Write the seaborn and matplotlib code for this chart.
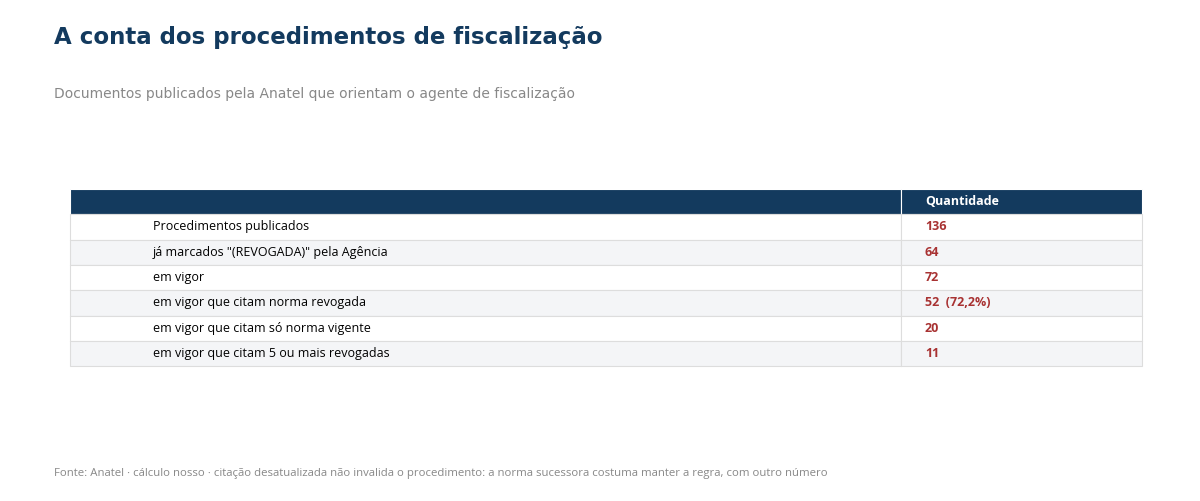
import matplotlib
matplotlib.use("Agg")
import matplotlib.pyplot as plt
import seaborn as sns

sns.set_theme(style="white")
plt.rcParams["font.family"] = ["DejaVu Sans"]

labels = ["Procedimentos publicados",
          'já marcados "(REVOGADA)" pela Agência',
          "em vigor",
          "em vigor que citam norma revogada",
          "em vigor que citam só norma vigente",
          "em vigor que citam 5 ou mais revogadas"]
values = ["136", "64", "72", "52  (72,2%)", "20", "11"]
header = ["", "Quantidade"]

NAVY = "#133a5e"
RED = "#a83232"

fig = plt.figure(figsize=(12, 5.01), dpi=100)
fig.text(0.045, 0.925, "A conta dos procedimentos de fiscalização",
         fontsize=16.5, fontweight="bold", color=NAVY, va="center")
fig.text(0.045, 0.813, "Documentos publicados pela Anatel que orientam o agente de fiscalização",
         fontsize=10, color="#888888", va="center")
fig.text(0.045, 0.054, "Fonte: Anatel · cálculo nosso · citação desatualizada não invalida o procedimento: "
         "a norma sucessora costuma manter a regra, com outro número",
         fontsize=8.2, color="#888888", va="center", family="Open Sans")

ax = fig.add_axes([0.0583, 0.269, 0.8934, 0.354])
ax.axis("off")
cells = [[l, v] for l, v in zip(labels, values)]
tbl = ax.table(cellText=cells, colLabels=header, bbox=[0, 0, 1, 1],
               colWidths=[0.775, 0.225], cellLoc="left")
tbl.auto_set_font_size(False)
for (r, c), cell in tbl.get_celld().items():
    cell.set_edgecolor("#dddddd")
    cell.set_linewidth(0.8)
    txt = cell.get_text()
    txt.set_fontsize(9)
    txt.set_family(["Open Sans", "DejaVu Sans"])
    txt.set_horizontalalignment("left")
    if r == 0:
        cell.set_facecolor(NAVY)
        cell.set_edgecolor("white")
        txt.set_color("white")
        txt.set_fontweight("bold")
    else:
        cell.set_facecolor("#f4f5f7" if r % 2 == 0 else "white")
        if c == 1:
            txt.set_color(RED)
            txt.set_fontweight("bold")
        else:
            txt.set_color("black")
    cell.PAD = 0.1
fig.savefig("out.png", dpi=100)
